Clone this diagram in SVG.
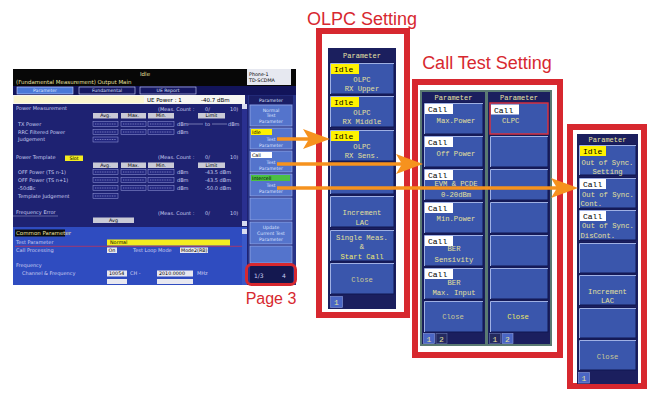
<svg xmlns="http://www.w3.org/2000/svg" width="649" height="394" viewBox="0 0 649 394">
<defs>
<style>
.tt{font-family:"Liberation Sans",Arial,sans-serif;font-size:18px;fill:#d7282f}
.rf{fill:#fff;stroke:#d7282f;stroke-width:6}
.pn{fill:#1b1f5e}
.b{fill:#3a56ac;stroke:#101650;stroke-width:1}
.h{fill:none;stroke:#9fb0e4;stroke-width:1}
.m{font-family:"Liberation Mono","DejaVu Sans Mono",monospace;font-size:7.2px;fill:#e4e09c}
.c{text-anchor:middle}
.hd{font-family:"Liberation Mono","DejaVu Sans Mono",monospace;font-size:7px;fill:#e8e4a6;text-anchor:middle}
.ti{fill:#fff200}
.tc{fill:#ffffff}
.tg{font-family:"Liberation Mono","DejaVu Sans Mono",monospace;font-size:8px;fill:#000}
.pg{fill:#4a66c4;stroke:#8da0e0;stroke-width:0.6}
.pd{fill:#242a60;stroke:#6a78b0;stroke-width:0.6}
.s{font-family:"DejaVu Sans","Liberation Sans",sans-serif;font-size:5px;fill:#c9cdf0}
.sk{font-family:"DejaVu Sans","Liberation Sans",sans-serif;font-size:4.8px;fill:#000}
.sy{font-family:"DejaVu Sans","Liberation Sans",sans-serif;font-size:5.5px;fill:#e8e0a0}
.hb{fill:#c9cad6}
.vb{fill:#22267e;stroke:#9aa0de;stroke-width:0.5}
.dl{stroke:#b0b4ea;stroke-width:0.6;stroke-dasharray:1 0.7}
.sb{fill:#5474cc;stroke:#a8b8ee;stroke-width:0.6}
.st{font-family:"DejaVu Sans","Liberation Sans",sans-serif;font-size:4.6px;fill:#dde2ff;text-anchor:middle}
.wb{fill:#e8e8f0}
.ar{stroke:#f6921e;stroke-width:3.6;fill:none}
</style>
<marker id="ah" markerUnits="userSpaceOnUse" markerWidth="30" markerHeight="24" refX="12" refY="11" orient="auto">
<path d="M0,1 L27,11 L0,21 L6,11 z" fill="#f6921e"/>
</marker>
</defs>

<g id="screenshot">
<rect x="13" y="69" width="283" height="216" fill="#1e2272"/>
<rect x="13" y="69" width="283" height="17" fill="#070707"/>
<text x="140" y="76" class="sy">Idle</text>
<text x="16" y="83.5" class="sy">(Fundamental Measurement) Output Main</text>
<rect x="247" y="69" width="44" height="16" fill="#e6e8f0"/>
<text x="249" y="75.5" class="sk">Phone-1</text>
<text x="249" y="82" class="sk">TD-SCDMA</text>
<rect x="13" y="86" width="283" height="9" fill="#12145a"/>
<rect x="17" y="87" width="56" height="7" fill="#4a78d8" stroke="#d0d8ff" stroke-width="0.6"/>
<text x="45" y="92.3" class="st">Parameter</text>
<rect x="79" y="87" width="56" height="7" fill="#161862" stroke="#d0d8ff" stroke-width="0.6"/>
<text x="107" y="92.3" class="st">Fundamental</text>
<rect x="140" y="87" width="56" height="7" fill="#161862" stroke="#d0d8ff" stroke-width="0.6"/>
<text x="168" y="92.3" class="st">UE Report</text>
<rect x="13" y="95" width="232" height="9" fill="#f6f6f2"/>
<rect x="14" y="96" width="130" height="7" fill="#fbf6cf"/>
<text x="147" y="101.7" class="sk" style="font-size:5.5px">UE Power : 1</text>
<text x="201" y="101.7" class="sk" style="font-size:5.5px">-40.7 dBm</text>

<text x="16" y="110" class="s">Power Measurement</text>
<text x="158" y="111" class="s">(Meas. Count :</text>
<text x="205" y="111" class="s">0/</text>
<text x="230" y="111" class="s">10)</text>
<rect class="hb" x="93" y="113" width="25" height="5.5"/><text x="105.5" y="117.3" class="sk c">Avg.</text>
<rect class="hb" x="121" y="113" width="25" height="5.5"/><text x="133.5" y="117.3" class="sk c">Max.</text>
<rect class="hb" x="148" y="113" width="26" height="5.5"/><text x="161" y="117.3" class="sk c">Min.</text>
<rect class="hb" x="198" y="113" width="27" height="5.5"/><text x="211.5" y="117.3" class="sk c">Limit</text>

<text x="18" y="126" class="s">TX Power</text>
<rect class="vb" x="93" y="121.5" width="25" height="5"/><rect class="vb" x="121" y="121.5" width="25" height="5"/><rect class="vb" x="148" y="121.5" width="26" height="5"/>
<path class="dl" d="M95,124H116M123,124H144M150,124H172"/>
<text x="177" y="126" class="s">dBm</text>
<path d="M188,124H203M212,124H227" stroke="#c9cdf0" stroke-width="0.5"/>
<text x="205" y="126" class="s">to</text>
<text x="228" y="126" class="s">dBm</text>

<text x="18" y="134" class="s">RRC Filtered Power</text>
<rect class="vb" x="93" y="129.5" width="25" height="5"/><rect class="vb" x="121" y="129.5" width="25" height="5"/><rect class="vb" x="148" y="129.5" width="26" height="5"/>
<path class="dl" d="M95,132H116M123,132H144M150,132H172"/>
<text x="177" y="134" class="s">dBm</text>

<text x="18" y="141" class="s">Judgement</text>
<rect class="vb" x="93" y="137" width="25" height="5"/><path class="dl" d="M95,139.5H116"/>

<text x="16" y="159" class="s">Power Template</text>
<rect x="65" y="155.5" width="18" height="5.5" fill="#f4ec20"/>
<text x="74" y="159.7" class="sk c">Slot</text>
<text x="158" y="159" class="s">(Meas. Count :</text>
<text x="205" y="159" class="s">0/</text>
<text x="230" y="159" class="s">10)</text>
<rect class="hb" x="93" y="162.5" width="25" height="5.5"/><text x="105.5" y="166.8" class="sk c">Avg.</text>
<rect class="hb" x="121" y="162.5" width="25" height="5.5"/><text x="133.5" y="166.8" class="sk c">Max.</text>
<rect class="hb" x="148" y="162.5" width="26" height="5.5"/><text x="161" y="166.8" class="sk c">Min.</text>
<rect class="hb" x="198" y="162.5" width="27" height="5.5"/><text x="211.5" y="166.8" class="sk c">Limit</text>

<text x="18" y="174" class="s">OFF Power (TS n-1)</text>
<rect class="vb" x="93" y="169.5" width="25" height="5"/><rect class="vb" x="121" y="169.5" width="25" height="5"/><rect class="vb" x="148" y="169.5" width="26" height="5"/>
<path class="dl" d="M95,172H116M123,172H144M150,172H172"/>
<text x="177" y="174" class="s">dBm</text><text x="205" y="174" class="s">-43.5 dBm</text>
<text x="18" y="182" class="s">OFF Power (TS n+1)</text>
<rect class="vb" x="93" y="177.5" width="25" height="5"/><rect class="vb" x="121" y="177.5" width="25" height="5"/><rect class="vb" x="148" y="177.5" width="26" height="5"/>
<path class="dl" d="M95,180H116M123,180H144M150,180H172"/>
<text x="177" y="182" class="s">dBm</text><text x="205" y="182" class="s">-43.5 dBm</text>
<text x="18" y="190" class="s">-50dBc</text>
<rect class="vb" x="93" y="185.5" width="25" height="5"/><rect class="vb" x="121" y="185.5" width="25" height="5"/><rect class="vb" x="148" y="185.5" width="26" height="5"/>
<path class="dl" d="M95,188H116M123,188H144M150,188H172"/>
<text x="177" y="190" class="s">dBm</text><text x="205" y="190" class="s">-50.0 dBm</text>
<text x="18" y="198" class="s">Template Judgement</text>
<rect class="vb" x="93" y="193.5" width="25" height="5"/><path class="dl" d="M95,196H116"/>

<text x="16" y="214" class="s">Frequency Error</text>
<path d="M13,216H58" stroke="#c9cdf0" stroke-width="0.4"/>
<text x="158" y="215" class="s">(Meas. Count :</text>
<text x="205" y="215" class="s">0/</text>
<text x="230" y="215" class="s">10)</text>
<rect class="hb" x="93" y="217.5" width="41" height="5.5"/><text x="113.5" y="221.8" class="sk c">Avg</text>

<rect x="13" y="227" width="230" height="58" fill="#2f4cc0"/>
<rect x="15" y="229.5" width="50" height="7" fill="#0a0a0a"/>
<text x="16" y="235" class="sy">Common Parameter</text>
<text x="16" y="243.5" class="s">Test Parameter</text>
<rect x="107" y="239.5" width="123" height="6" fill="#f4ec20"/>
<text x="110" y="244" class="sk">Normal</text>
<path d="M15,246.3H242" stroke="#d03050" stroke-width="0.7"/>
<text x="16" y="252" class="s">Call Processing</text>
<rect class="wb" x="107" y="247.5" width="10" height="5.5"/><text x="108.5" y="251.8" class="sk">On</text>
<text x="133" y="252" class="s">Test Loop Mode</text>
<rect class="wb" x="180" y="247.5" width="28" height="5.5"/><text x="181" y="251.8" class="sk">Mode2(RB)</text>
<text x="16" y="267" class="s">Frequency</text>
<text x="22" y="275" class="s">Channel &amp; Frequency</text>
<rect class="wb" x="107" y="270.5" width="20" height="6"/><text x="109" y="275" class="sk">10054</text>
<text x="130" y="275" class="s">CH -</text>
<rect class="wb" x="157" y="270.5" width="36" height="6"/><text x="159" y="275" class="sk">2010.0000</text>
<text x="197" y="275" class="s">MHz</text>
<rect class="wb" x="107" y="279" width="20" height="5"/>
<rect class="wb" x="157" y="279" width="36" height="5"/>

<rect x="242" y="104" width="5" height="122" fill="#2a3090"/>
<rect x="242" y="104" width="5" height="5" fill="#d8dcf0"/>
<rect x="242" y="221" width="5" height="5" fill="#d8dcf0"/>
<rect x="242" y="227" width="5" height="58" fill="#3a58c8"/>
<rect x="242" y="229" width="5" height="5" fill="#d8dcf0"/>

<rect x="248" y="95" width="48" height="190" fill="#283488"/>
<rect x="249" y="95.5" width="44" height="8.5" fill="#1a1e66"/>
<text x="271" y="101.5" class="st">Parameter</text>
<rect class="sb" x="250" y="105" width="42" height="21"/>
<text x="271" y="111.5" class="st">Normal</text><text x="271" y="117" class="st">Test</text><text x="271" y="122.5" class="st">Parameter</text>
<rect class="sb" x="250" y="128" width="42" height="21"/>
<rect x="251" y="129" width="21" height="6" fill="#fff200"/><text x="252" y="133.8" class="sk">Idle</text>
<text x="271" y="141" class="st">Test</text><text x="271" y="147" class="st">Parameter</text>
<rect class="sb" x="250" y="151" width="42" height="21"/>
<rect x="251" y="152" width="21" height="6" fill="#ffffff"/><text x="252" y="156.8" class="sk">Call</text>
<text x="271" y="164" class="st">Test</text><text x="271" y="170" class="st">Parameter</text>
<rect class="sb" x="250" y="174" width="42" height="22"/>
<rect x="251" y="175" width="39" height="6" fill="#4cc043"/><text x="252" y="179.8" class="sk">Intercell</text>
<text x="271" y="187" class="st">Test</text><text x="271" y="193" class="st">Parameter</text>
<rect class="sb" x="250" y="198" width="42" height="22"/>
<rect class="sb" x="250" y="222" width="42" height="22"/>
<text x="271" y="229" class="st">Update</text><text x="271" y="235" class="st">Current Test</text><text x="271" y="241" class="st">Parameter</text>
<rect class="sb" x="250" y="246" width="42" height="17"/>
<rect x="250" y="266" width="43" height="17" fill="#141850"/>
<text x="254" y="277.5" class="s" style="font-size:6px">1/3</text>
<text x="282" y="277.5" class="s" style="font-size:6px">4</text>
<rect x="246.5" y="264.5" width="49" height="20" rx="5" fill="none" stroke="#d7282f" stroke-width="3"/>
</g>

<g id="page3-label">
<text x="271" y="304" class="tt c" style="font-size:16px">Page 3</text>
</g>

<g id="olpc-setting">
<text x="362" y="25" class="tt c">OLPC Setting</text>
<rect class="rf" x="319" y="31" width="88" height="284"/>
<rect class="pn" x="328" y="48" width="68" height="261"/>
<text x="362" y="58" class="hd">Parameter</text>
<rect class="b" x="330" y="63" width="64" height="31"/><path class="h" d="M330.5,94V63.5H394"/>
<rect class="b" x="330" y="96" width="64" height="31"/><path class="h" d="M330.5,127V96.5H394"/>
<rect class="b" x="330" y="130" width="64" height="31"/><path class="h" d="M330.5,161V130.5H394"/>
<rect class="b" x="330" y="163" width="64" height="31"/><path class="h" d="M330.5,194V163.5H394"/>
<rect class="b" x="330" y="196" width="64" height="31"/><path class="h" d="M330.5,227V196.5H394"/>
<rect class="b" x="330" y="230" width="64" height="31"/><path class="h" d="M330.5,261V230.5H394"/>
<rect class="b" x="330" y="263" width="64" height="31"/><path class="h" d="M330.5,294V263.5H394"/>
<rect class="ti" x="331" y="64" width="28" height="10"/><text x="334" y="72" class="tg">Idle</text>
<text x="362" y="81.5" class="m c">OLPC</text><text x="362" y="91" class="m c">RX Upper</text>
<rect class="ti" x="331" y="97" width="28" height="10"/><text x="334" y="105" class="tg">Idle</text>
<text x="362" y="114.5" class="m c">OLPC</text><text x="362" y="124" class="m c">RX Middle</text>
<rect class="ti" x="331" y="131" width="28" height="10"/><text x="334" y="139" class="tg">Idle</text>
<text x="362" y="148.5" class="m c">OLPC</text><text x="362" y="158" class="m c">RX Sens.</text>
<text x="362" y="215" class="m c">Increment</text><text x="362" y="225" class="m c">LAC</text>
<text x="362" y="239.5" class="m c">Single Meas.</text><text x="362" y="249" class="m c">&amp;</text><text x="362" y="258.5" class="m c" style="fill:#efe870">Start Call</text>
<text x="362" y="282" class="m c" style="fill:#c9c896">Close</text>
<rect class="pg" x="330.5" y="296.5" width="12" height="11"/><text x="336.5" y="305" class="m c" style="font-size:8px">1</text>
</g>

<g id="call-test-setting">
<text x="487" y="69" class="tt c">Call Test Setting</text>
<rect class="rf" x="415" y="82" width="145" height="273"/>
<rect x="420" y="90" width="132" height="256" fill="#5a7a72"/>
<rect class="pn" x="422" y="92" width="63" height="252"/>
<rect class="pn" x="488" y="92" width="62" height="252"/>
<text x="453.5" y="100" class="hd">Parameter</text>
<text x="519" y="100" class="hd">Parameter</text>

<rect class="b" x="424" y="103" width="59" height="31"/><path class="h" d="M424.5,134V103.5H483"/>
<rect class="b" x="424" y="136" width="59" height="31"/><path class="h" d="M424.5,167V136.5H483"/>
<rect class="b" x="424" y="169" width="59" height="31"/><path class="h" d="M424.5,200V169.5H483"/>
<rect class="b" x="424" y="202" width="59" height="31"/><path class="h" d="M424.5,233V202.5H483"/>
<rect class="b" x="424" y="235" width="59" height="31"/><path class="h" d="M424.5,266V235.5H483"/>
<rect class="b" x="424" y="268" width="59" height="31"/><path class="h" d="M424.5,299V268.5H483"/>
<rect class="b" x="424" y="301" width="59" height="31"/><path class="h" d="M424.5,332V301.5H483"/>
<rect class="tc" x="425" y="104" width="28" height="10"/><text x="428" y="112" class="tg">Call</text>
<text x="456" y="123" class="m c">Max.Power</text>
<rect class="tc" x="425" y="137" width="28" height="10"/><text x="428" y="145" class="tg">Call</text>
<text x="456" y="155.5" class="m c">Off Power</text>
<rect class="tc" x="425" y="170" width="28" height="10"/><text x="428" y="178" class="tg">Call</text>
<text x="456" y="186" class="m c">EVM &amp; PCDE</text><text x="456" y="196.5" class="m c">0-20dBm</text>
<rect class="tc" x="425" y="203" width="28" height="10"/><text x="428" y="211" class="tg">Call</text>
<text x="456" y="220.5" class="m c">Min.Power</text>
<rect class="tc" x="425" y="236" width="28" height="10"/><text x="428" y="244" class="tg">Call</text>
<text x="454" y="251" class="m c">BER</text><text x="454" y="262" class="m c">Sensivity</text>
<rect class="tc" x="425" y="269" width="28" height="10"/><text x="428" y="277" class="tg">Call</text>
<text x="454" y="284.5" class="m c">BER</text><text x="454" y="294.5" class="m c">Max. Input</text>
<text x="453" y="318.5" class="m c" style="fill:#c9c896">Close</text>
<rect class="pg" x="423.5" y="333.5" width="11" height="10"/><text x="429" y="341.5" class="m c" style="font-size:8px">1</text>
<rect class="pd" x="436" y="333.5" width="11" height="10"/><text x="441.5" y="341.5" class="m c" style="font-size:8px">2</text>

<rect class="b" x="490" y="103" width="58" height="31" style="stroke:#e0303a;stroke-width:1.4"/>
<rect class="b" x="490" y="136" width="58" height="31"/><path class="h" d="M490.5,167V136.5H548"/>
<rect class="b" x="490" y="169" width="58" height="31"/><path class="h" d="M490.5,200V169.5H548"/>
<rect class="b" x="490" y="202" width="58" height="31"/><path class="h" d="M490.5,233V202.5H548"/>
<rect class="b" x="490" y="235" width="58" height="31"/><path class="h" d="M490.5,266V235.5H548"/>
<rect class="b" x="490" y="268" width="58" height="31"/><path class="h" d="M490.5,299V268.5H548"/>
<rect class="b" x="490" y="301" width="58" height="31"/><path class="h" d="M490.5,332V301.5H548"/>
<rect class="tc" x="491" y="104.5" width="28" height="10"/><text x="494" y="112.5" class="tg">Call</text>
<text x="502" y="123" class="m">CLPC</text>
<text x="518" y="318.5" class="m c" style="fill:#ece664">Close</text>
<rect class="pd" x="489.5" y="333.5" width="11" height="10"/><text x="495" y="341.5" class="m c" style="font-size:8px">1</text>
<rect class="pg" x="502" y="333.5" width="11" height="10"/><text x="507.5" y="341.5" class="m c" style="font-size:8px">2</text>
</g>

<g id="out-of-sync-setting">
<rect class="rf" x="570" y="127" width="74" height="259"/>
<rect class="pn" x="577" y="134" width="61" height="250"/>
<text x="607.5" y="142" class="hd">Parameter</text>
<rect class="b" x="579" y="145" width="57" height="30"/><path class="h" d="M579.5,175V145.5H636"/>
<rect class="b" x="579" y="178" width="57" height="30"/><path class="h" d="M579.5,208V178.5H636"/>
<rect class="b" x="579" y="210" width="57" height="30"/><path class="h" d="M579.5,240V210.5H636"/>
<rect class="b" x="579" y="243" width="57" height="30"/><path class="h" d="M579.5,273V243.5H636"/>
<rect class="b" x="579" y="275" width="57" height="30"/><path class="h" d="M579.5,305V275.5H636"/>
<rect class="b" x="579" y="308" width="57" height="30"/><path class="h" d="M579.5,338V308.5H636"/>
<rect class="b" x="579" y="340" width="57" height="30"/><path class="h" d="M579.5,370V340.5H636"/>
<rect class="ti" x="580" y="146" width="26" height="10"/><text x="583" y="154" class="tg">Idle</text>
<text x="607.5" y="164.5" class="m c">Out of Sync.</text><text x="607.5" y="173.5" class="m c">Setting</text>
<rect class="tc" x="580" y="179" width="26" height="10"/><text x="583" y="187" class="tg">Call</text>
<text x="582" y="196.5" class="m">Out of Sync.</text><text x="580.5" y="205.5" class="m">Cont.</text>
<rect class="tc" x="580" y="211" width="26" height="10"/><text x="583" y="219" class="tg">Call</text>
<text x="582" y="228" class="m">Out of Sync.</text><text x="580.5" y="237.5" class="m">DisCont.</text>
<text x="607.5" y="294" class="m c">Increment</text><text x="607.5" y="302.5" class="m c">LAC</text>
<text x="607.5" y="358.5" class="m c" style="fill:#c9c896">Close</text>
<rect class="pg" x="578.5" y="372.5" width="11" height="10.5"/><text x="584" y="381" class="m c" style="font-size:8px">1</text>
</g>

<g id="connectors">
<line class="ar" x1="277" y1="139" x2="315" y2="139" marker-end="url(#ah)"/>
<line class="ar" x1="277" y1="164" x2="408" y2="164" marker-end="url(#ah)"/>
<line class="ar" x1="277" y1="188" x2="563" y2="188" marker-end="url(#ah)"/>
</g>
</svg>
